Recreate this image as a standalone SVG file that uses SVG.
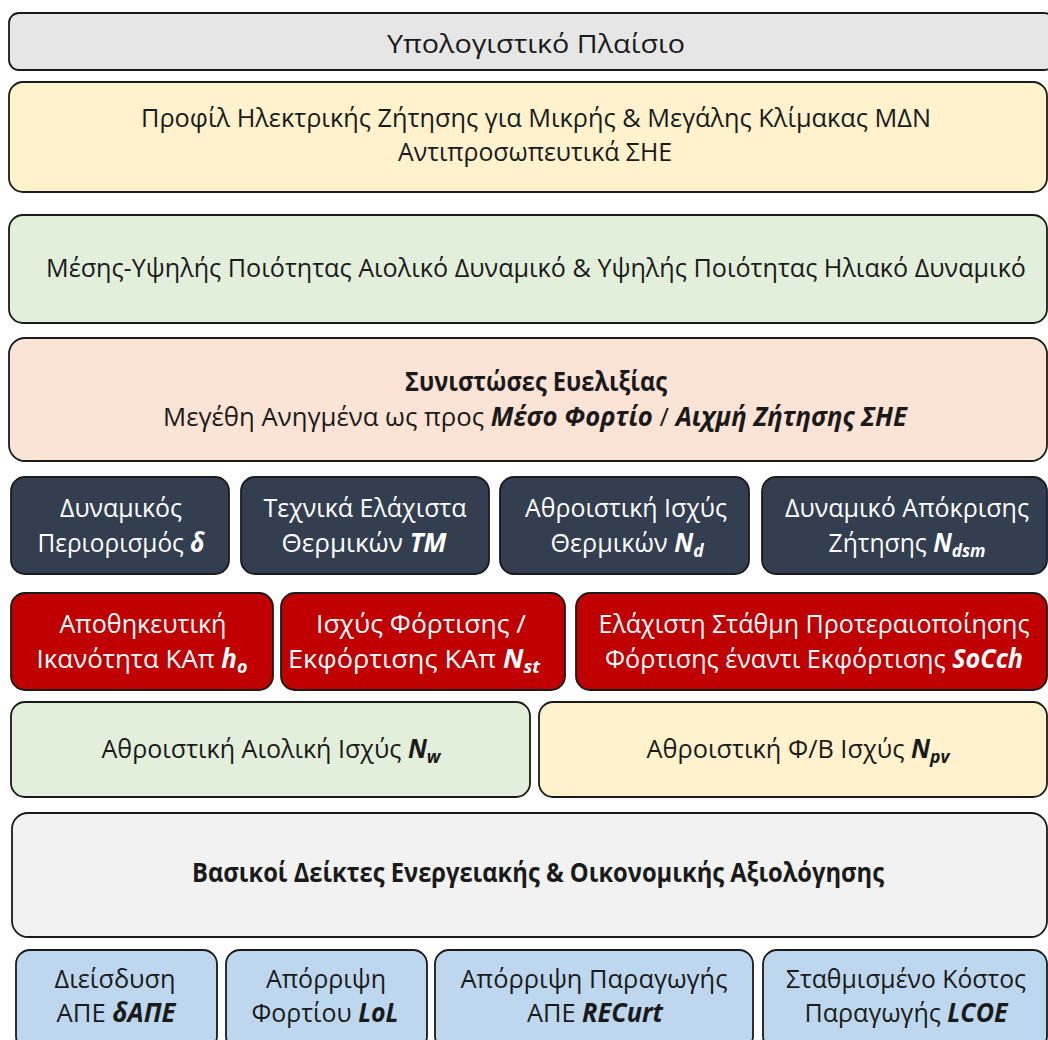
<svg xmlns="http://www.w3.org/2000/svg" width="1048" height="1040" viewBox="0 0 1048 1040">
  <style>
    .box { stroke: #1a1a1a; stroke-width: 1.8; }
    .t { font-family: "Open Sans", "Noto Sans", "DejaVu Sans", sans-serif; font-size: 26px; text-anchor: middle; fill: #1a1a1a; }
    .w { fill: #ffffff; }
    .b { font-weight: bold; }
    .bi { font-weight: bold; font-style: italic; }
    .sub { font-weight: bold; font-style: italic; font-size: 18px; }
    .grey { fill: #e6e6e6; }
    .cream { fill: #fff2cc; }
    .green { fill: #e2efda; }
    .peach { fill: #fbe4d6; }
    .slate { fill: #333f50; }
    .red { fill: #c00000; }
    .light { fill: #f2f2f2; }
    .blue { fill: #bdd7ee; }
  </style>

  <rect width="1048" height="1040" fill="#ffffff"/>

  <g id="framework">
    <rect class="box grey" x="9" y="13" width="1045" height="57" rx="10"/>
    <text class="t" x="536" y="53" textLength="298" lengthAdjust="spacingAndGlyphs">Υπολογιστικό  Πλαίσιο</text>
  </g>

  <g id="demand-profile">
    <rect class="box cream" x="9" y="82" width="1038" height="110" rx="14"/>
    <text class="t" x="536" y="127" textLength="790" lengthAdjust="spacingAndGlyphs">Προφίλ Ηλεκτρικής Ζήτησης για Μικρής &amp; Μεγάλης Κλίμακας ΜΔΝ</text>
    <text class="t" x="535" y="161" textLength="274" lengthAdjust="spacingAndGlyphs">Αντιπροσωπευτικά ΣΗΕ</text>
  </g>

  <g id="res-potential">
    <rect class="box green" x="9" y="215" width="1038" height="108" rx="14"/>
    <text class="t" x="536" y="277" textLength="980" lengthAdjust="spacingAndGlyphs">Μέσης-Υψηλής Ποιότητας Αιολικό Δυναμικό &amp; Υψηλής Ποιότητας Ηλιακό Δυναμικό</text>
  </g>

  <g id="flexibility">
    <rect class="box peach" x="9" y="338" width="1038" height="123" rx="16"/>
    <text class="t b" x="536" y="391" textLength="262" lengthAdjust="spacingAndGlyphs">Συνιστώσες Ευελιξίας</text>
    <text class="t" x="535" y="426" textLength="744" lengthAdjust="spacingAndGlyphs">Μεγέθη Ανηγμένα ως προς <tspan class="bi">Μέσο Φορτίο</tspan> / <tspan class="bi">Αιχμή Ζήτησης ΣΗΕ</tspan></text>
  </g>

  <g id="dynamic-limit">
    <rect class="box slate" x="11" y="477" width="218" height="97" rx="14"/>
    <text class="t w" x="121" y="517" textLength="122" lengthAdjust="spacingAndGlyphs">Δυναμικός</text>
    <text class="t w" x="121" y="552" textLength="167" lengthAdjust="spacingAndGlyphs">Περιορισμός <tspan class="bi">δ</tspan></text>
  </g>

  <g id="technical-minimum">
    <rect class="box slate" x="241" y="477" width="248" height="97" rx="14"/>
    <text class="t w" x="365" y="517" textLength="203" lengthAdjust="spacingAndGlyphs">Τεχνικά Ελάχιστα</text>
    <text class="t w" x="364" y="552" textLength="165" lengthAdjust="spacingAndGlyphs">Θερμικών <tspan class="bi">TM</tspan></text>
  </g>

  <g id="thermal-capacity">
    <rect class="box slate" x="500" y="477" width="249" height="97" rx="14"/>
    <text class="t w" x="626" y="517" textLength="202" lengthAdjust="spacingAndGlyphs">Αθροιστική Ισχύς</text>
    <text class="t w" x="627" y="552" textLength="153" lengthAdjust="spacingAndGlyphs">Θερμικών <tspan class="bi">N</tspan><tspan class="sub" dy="5">d</tspan></text>
  </g>

  <g id="demand-response">
    <rect class="box slate" x="762" y="477" width="285" height="97" rx="14"/>
    <text class="t w" x="907" y="517" textLength="244" lengthAdjust="spacingAndGlyphs">Δυναμικό Απόκρισης</text>
    <text class="t w" x="907" y="552" textLength="157" lengthAdjust="spacingAndGlyphs">Ζήτησης <tspan class="bi">N</tspan><tspan class="sub" dy="5">dsm</tspan></text>
  </g>

  <g id="storage-capacity">
    <rect class="box red" x="11" y="593" width="262" height="97" rx="14"/>
    <text class="t w" x="143" y="633" textLength="167" lengthAdjust="spacingAndGlyphs">Αποθηκευτική</text>
    <text class="t w" x="142" y="668" textLength="211" lengthAdjust="spacingAndGlyphs">Ικανότητα ΚΑπ <tspan class="bi">h</tspan><tspan class="sub" dy="5">o</tspan></text>
  </g>

  <g id="storage-power">
    <rect class="box red" x="281" y="593" width="284" height="97" rx="14"/>
    <text class="t w" x="421" y="633" textLength="210" lengthAdjust="spacingAndGlyphs">Ισχύς Φόρτισης /</text>
    <text class="t w" x="414" y="668" textLength="252" lengthAdjust="spacingAndGlyphs">Εκφόρτισης ΚΑπ <tspan class="bi">N</tspan><tspan class="sub" dy="5">st</tspan></text>
  </g>

  <g id="soc-priority">
    <rect class="box red" x="576" y="593" width="471" height="97" rx="14"/>
    <text class="t w" x="814" y="633" textLength="431" lengthAdjust="spacingAndGlyphs">Ελάχιστη Στάθμη Προτεραιοποίησης</text>
    <text class="t w" x="814" y="668" textLength="418" lengthAdjust="spacingAndGlyphs">Φόρτισης έναντι Εκφόρτισης <tspan class="bi">SoCch</tspan></text>
  </g>

  <g id="wind-capacity">
    <rect class="box green" x="11" y="702" width="519" height="95" rx="14"/>
    <text class="t" x="271" y="758" textLength="339" lengthAdjust="spacingAndGlyphs">Αθροιστική Αιολική Ισχύς <tspan class="bi">N</tspan><tspan class="sub" dy="5">w</tspan></text>
  </g>

  <g id="pv-capacity">
    <rect class="box cream" x="539" y="702" width="508" height="95" rx="14"/>
    <text class="t" x="798" y="758" textLength="303" lengthAdjust="spacingAndGlyphs">Αθροιστική Φ/Β Ισχύς <tspan class="bi">N</tspan><tspan class="sub" dy="5">pv</tspan></text>
  </g>

  <g id="indicators">
    <rect class="box light" x="12" y="813" width="1035" height="124" rx="16"/>
    <text class="t b" x="538" y="882" textLength="692" lengthAdjust="spacingAndGlyphs">Βασικοί Δείκτες Ενεργειακής &amp; Οικονομικής Αξιολόγησης</text>
  </g>

  <g id="res-penetration">
    <rect class="box blue" x="16" y="950" width="201" height="100" rx="14"/>
    <text class="t" x="115" y="988" textLength="121" lengthAdjust="spacingAndGlyphs">Διείσδυση</text>
    <text class="t" x="116" y="1022" textLength="119" lengthAdjust="spacingAndGlyphs">ΑΠΕ <tspan class="bi">δΑΠΕ</tspan></text>
  </g>

  <g id="loss-of-load">
    <rect class="box blue" x="226" y="950" width="201" height="100" rx="14"/>
    <text class="t" x="326" y="988" textLength="120" lengthAdjust="spacingAndGlyphs">Απόρριψη</text>
    <text class="t" x="325" y="1022" textLength="147" lengthAdjust="spacingAndGlyphs">Φορτίου <tspan class="bi">LoL</tspan></text>
  </g>

  <g id="res-curtailment">
    <rect class="box blue" x="435" y="950" width="318" height="100" rx="14"/>
    <text class="t" x="594" y="988" textLength="267" lengthAdjust="spacingAndGlyphs">Απόρριψη Παραγωγής</text>
    <text class="t" x="595" y="1022" textLength="136" lengthAdjust="spacingAndGlyphs">ΑΠΕ <tspan class="bi">RECurt</tspan></text>
  </g>

  <g id="lcoe">
    <rect class="box blue" x="763" y="950" width="284" height="100" rx="14"/>
    <text class="t" x="906" y="988" textLength="240" lengthAdjust="spacingAndGlyphs">Σταθμισμένο Κόστος</text>
    <text class="t" x="906" y="1022" textLength="203" lengthAdjust="spacingAndGlyphs">Παραγωγής <tspan class="bi">LCOE</tspan></text>
  </g>

  <g id="connectors"/>
</svg>
